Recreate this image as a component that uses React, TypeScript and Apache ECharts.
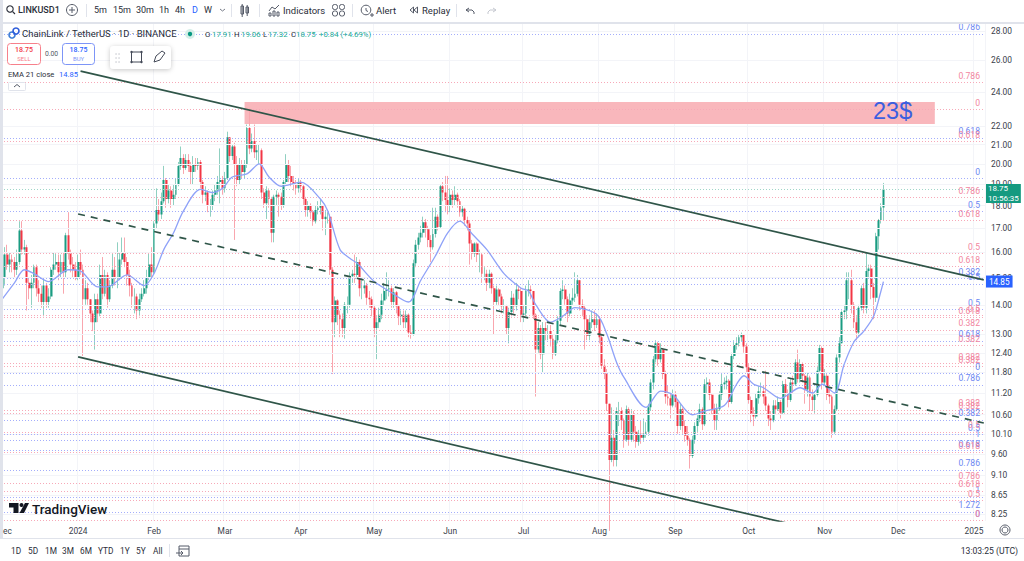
import React, { useEffect, useRef } from "react";
import * as echarts from "echarts";

const closes = [
15.0,15.9,15.5,15.7,15.6,15.3,15.6,16.9,16.1,16.2,
14.8,14.6,14.8,15.4,14.6,14.4,14.1,14.7,14.1,14.3,
15.3,15.5,15.6,15.2,15.6,15.2,16.7,16.0,15.5,15.3,
15.0,15.6,15.3,14.2,14.6,14.2,13.7,13.4,14.2,13.7,
15.1,14.4,15.1,14.2,14.7,15.3,15.0,15.0,15.7,16.0,
15.6,15.1,14.7,14.3,14.3,13.8,14.2,14.4,14.6,15.0,
15.5,15.2,17.2,17.8,17.6,18.2,19.2,18.3,18.7,18.3,
18.5,19.0,19.9,20.3,19.8,20.2,19.9,19.6,20.0,19.9,
20.1,19.1,18.5,18.6,18.0,18.0,18.5,18.7,19.1,19.2,
18.8,19.3,21.4,20.4,20.9,20.0,19.2,20.0,19.6,20.0,
21.9,20.8,21.2,20.6,20.7,20.7,18.6,18.1,18.7,18.3,
16.8,18.4,18.5,18.4,18.0,19.1,20.0,19.4,19.1,19.0,
18.8,19.1,18.9,18.3,17.8,18.0,17.7,17.3,17.8,17.9,
18.0,17.4,17.5,17.5,15.3,13.4,14.15,13.65,13.5,13.2,
14.0,14.0,15.05,15.15,15.1,15.6,14.6,14.6,14.7,14.25,
14.2,13.9,13.2,13.4,13.65,14.15,14.5,14.55,14.6,14.1,
14.45,13.95,13.6,13.65,13.4,13.65,13.05,13.0,15.55,16.3,
16.6,16.8,17.25,16.95,16.5,16.2,16.75,17.5,17.05,18.9,
18.6,18.25,18.0,18.5,18.25,18.5,18.2,17.7,17.85,17.35,
17.2,16.35,15.95,16.35,15.9,15.9,15.15,15.15,14.8,15.15,
14.6,14.1,14.55,14.3,13.95,13.95,13.2,13.75,14.25,13.95,
14.55,14.5,13.65,13.7,14.5,14.55,14.5,13.65,12.5,13.2,
12.35,13.2,13.1,13.1,12.85,12.35,12.8,13.45,14.5,14.55,
14.2,13.7,14.15,14.25,14.4,14.9,14.0,13.9,13.5,12.95,
13.4,13.5,13.3,13.5,12.9,12.0,11.75,10.9,9.45,10.0,
9.45,10.7,10.7,10.45,9.95,10.75,9.95,10.6,10.15,9.9,
10.1,10.0,10.1,10.15,10.8,11.5,12.2,12.7,12.2,12.5,
11.75,11.1,11.05,10.85,11.15,10.95,10.3,10.75,10.3,10.05,
9.95,9.55,9.95,10.3,10.5,10.75,10.35,11.45,11.5,11.15,
10.75,10.45,10.75,11.15,11.45,11.5,11.55,10.95,12.3,12.65,
12.7,12.9,13.0,12.6,11.95,11.0,10.6,10.55,11.05,11.25,
11.25,11.1,10.85,10.5,10.45,10.85,10.75,10.95,10.65,11.45,
11.2,11.0,11.5,11.45,12.1,11.6,12.05,11.7,11.3,11.65,
11.1,11.0,11.15,11.85,12.55,11.5,11.7,11.15,11.1,10.15,
10.75,12.25,12.7,13.75,13.8,14.9,14.9,14.0,13.4,13.05,
13.9,14.6,13.9,15.25,15.35,14.65,14.25,16.65,17.35,17.91,18.75,
];
const firstOpen = 14.6;
const highs = [
15.2,16.2,16.3,16.0,15.9,15.8,16.1,17.3,17.3,16.5,
16.3,15.0,15.1,15.5,15.5,14.9,14.7,15.0,14.8,14.6,
15.4,16.0,16.0,15.9,15.9,16.0,16.8,17.7,16.1,15.8,
15.6,15.9,16.1,15.5,14.9,14.8,14.2,13.8,14.4,14.4,
15.5,15.8,15.3,15.2,14.9,16.0,15.8,16.4,16.0,16.6,
16.6,15.8,15.3,14.8,14.6,14.4,14.4,14.6,14.9,15.3,
16.0,16.2,17.3,18.8,18.3,18.6,19.9,19.3,19.0,18.9,
19.0,19.3,20.1,20.9,20.5,20.5,20.5,20.1,20.4,20.3,
20.3,20.2,19.2,18.9,18.7,18.3,18.7,19.0,19.4,20.8,
19.4,19.6,21.7,21.4,21.0,21.1,20.4,20.3,20.2,20.2,
22.1,23.0,21.6,22.1,21.0,21.0,20.8,18.8,18.9,18.8,
18.4,18.5,18.7,18.6,18.6,19.2,20.5,20.2,19.9,19.4,
19.2,19.3,19.2,19.0,18.4,18.2,18.1,17.8,18.0,18.2,
18.3,18.0,17.8,17.7,17.6,15.4,14.3,14.2,13.8,13.7,
14.1,14.3,15.2,15.3,15.9,15.8,15.7,14.9,14.9,14.8,
14.5,14.3,14.0,13.6,13.9,14.4,14.8,15.2,14.9,14.7,
14.6,14.5,14.0,13.8,13.8,13.8,13.7,13.3,15.7,16.5,
16.8,17.1,17.5,17.4,17.1,16.7,17.9,17.9,17.6,19.0,
19.1,19.4,19.4,18.8,18.7,18.9,18.6,18.3,18.0,17.9,
17.5,17.3,16.5,16.4,16.4,16.1,16.0,15.4,15.3,15.3,
15.2,14.7,14.7,14.6,14.4,14.2,14.0,13.9,14.5,14.4,
14.8,14.7,14.6,14.0,14.7,14.9,14.7,14.5,13.7,13.4,
13.3,13.4,13.4,13.3,13.3,13.0,13.0,13.6,14.6,14.9,
14.7,14.3,14.4,14.6,15.2,15.1,14.9,14.2,14.0,13.6,
13.6,13.8,13.8,13.7,13.6,13.0,12.2,11.9,10.9,10.8,
10.2,10.8,10.95,10.8,10.5,10.85,10.8,10.75,10.7,10.3,
10.2,10.45,10.5,10.4,10.9,11.6,12.3,12.8,12.75,12.7,
12.55,11.85,11.4,11.2,11.3,11.25,11.0,10.9,10.8,10.45,
10.3,10.0,10.05,10.4,10.6,10.9,10.8,11.6,11.65,11.6,
11.2,10.9,10.9,11.25,11.75,11.65,11.7,11.6,12.4,12.8,
12.9,13.0,13.05,13.0,12.7,12.05,11.1,10.8,11.2,11.4,
11.5,11.4,11.85,10.9,10.7,11.0,11.0,11.1,11.0,11.55,
11.6,11.3,11.6,11.7,12.2,12.5,12.2,12.1,11.75,11.8,
11.7,11.3,11.25,12.0,12.65,12.6,11.9,11.75,11.3,11.15,
10.85,12.35,12.9,13.8,14.0,15.2,15.2,15.3,14.1,13.6,
14.0,14.7,14.8,16.0,15.5,15.5,14.8,16.8,17.4,18.1,19.06,
];
const lows = [
14.5,14.7,15.3,15.2,15.2,15.0,15.1,15.5,15.9,15.9,
13.8,14.2,13.9,14.6,14.3,14.1,13.9,13.6,13.9,13.9,
14.2,15.1,15.3,14.9,15.0,14.4,15.0,15.7,15.2,15.0,
14.9,14.9,15.1,12.3,14.0,14.0,13.4,13.1,12.5,13.4,
13.6,14.2,14.3,13.9,14.1,14.6,14.7,14.6,14.9,15.5,
15.4,14.7,14.3,13.9,13.7,13.5,13.6,14.1,14.3,14.4,
14.9,15.0,15.1,17.0,17.3,17.4,18.1,17.9,18.1,17.9,
18.0,18.3,18.9,19.7,19.5,19.7,19.6,19.0,19.0,19.6,
19.7,18.8,18.1,18.2,17.7,17.5,17.8,18.2,18.5,18.1,
18.5,18.6,19.2,20.1,20.2,16.5,18.9,19.0,19.3,19.3,
19.8,20.5,20.6,20.3,20.2,20.0,18.3,17.9,17.4,17.9,
16.4,16.4,18.0,17.5,17.8,17.9,19.0,19.1,18.9,18.7,
18.5,18.6,18.6,18.0,17.5,17.5,17.4,17.1,17.2,17.6,
17.6,16.9,16.7,17.2,15.1,11.75,12.9,13.3,12.9,12.9,
12.85,13.7,13.9,14.8,14.8,15.0,14.3,14.2,14.4,14.0,
13.9,13.6,12.9,12.2,13.2,13.5,14.0,14.2,14.3,13.9,
13.9,13.7,13.3,13.3,13.2,13.2,12.9,12.85,12.95,15.4,
16.1,16.4,16.6,16.6,16.2,15.6,16.1,16.6,16.9,17.0,
18.2,17.7,17.6,17.7,17.9,18.0,17.9,17.5,17.5,17.1,
16.9,15.5,15.7,15.8,15.6,15.2,14.8,14.9,14.5,14.6,
14.4,13.0,14.0,14.0,13.7,13.7,13.0,12.7,13.6,13.7,
13.8,14.2,13.4,13.4,13.6,14.3,14.2,13.5,11.1,12.4,
12.2,11.8,12.8,12.8,12.6,12.2,12.3,12.7,13.3,14.2,
14.0,13.4,13.6,14.0,14.1,14.3,13.8,13.6,12.5,12.8,
12.8,13.2,13.1,13.2,12.7,11.9,11.6,10.7,7.9,9.4,
9.3,9.3,10.3,10.2,9.75,9.9,9.8,9.9,9.9,9.75,
9.8,9.85,9.9,10.0,10.05,10.7,11.3,12.1,12.0,12.1,
11.6,10.9,10.85,10.5,10.8,10.8,10.1,10.2,10.1,9.9,
9.8,9.25,9.5,9.85,10.15,10.4,10.2,10.3,11.2,11.0,
10.6,10.2,10.2,10.7,11.0,11.3,11.3,10.8,10.9,12.2,
12.5,12.6,12.75,12.4,11.8,10.9,10.4,10.3,10.5,10.9,
11.1,10.9,10.7,10.3,10.2,10.4,10.6,10.7,10.5,10.6,
11.1,10.8,10.95,11.2,11.4,11.5,11.5,11.5,10.9,11.1,
10.7,10.7,10.65,11.1,11.8,11.3,11.4,11.0,10.9,10.0,
10.1,10.7,12.1,12.7,13.5,13.5,14.2,13.7,13.2,12.8,
12.9,13.8,13.7,13.7,15.0,14.2,13.5,14.1,16.1,17.2,17.32,
];

const emaDays = [0,5,9,13,19,27,32,39,43,51,58,62,66,70,74,81,86,90,94,100,105,109,114,122,130,133,138,142,145,152,158,166,171,177,182,187,192,198,205,212,215,218,224,229,234,243,247,251,254,263,269,274,282,287,295,300,303,307,311,318,326,331,335,340,344,348,352,356,359,360];
const emaValues = [14.2,14.8,15.3,15.15,14.85,15.3,15.25,14.65,14.65,15.1,14.7,15.15,16.1,16.8,17.75,18.75,18.6,18.8,19.35,19.5,20.0,19.35,18.9,19.1,18.3,17.75,16.1,15.75,15.55,14.85,14.5,14.1,14.9,15.85,16.8,17.3,16.75,16.1,15.15,14.6,14.5,14.0,13.4,13.6,13.9,13.65,13.0,12.1,11.65,10.8,11.25,11.15,10.6,10.7,10.85,11.45,11.7,11.45,11.35,11.05,11.35,11.2,11.45,11.2,12.05,12.75,13.1,13.6,14.5,14.85];

const upperTrendDays = [32, 401];
const upperTrendPrices = [25.3, 14.91];
const midTrendDays = [31, 401];
const midTrendPrices = [17.62, 10.38];
const lowerTrendDays = [31, 322];
const lowerTrendPrices = [12.27, 8.04];

const priceTicks = ["28.00","26.00","24.00","22.00","21.00","20.00","19.00","18.00","17.00","16.00","15.00","14.00","13.00","12.40","11.80","11.20","10.60","10.10","9.60","9.10","8.65","8.25"];

const blueLevelPrices = [27.79,21.36,19.27,17.75,14.98,14.76,13.84,12.78,11.78,11.43,10.46,10.09,9.94,9.69,9.22,8.61,8.29,8.12];
const blueLevelNames = ["0.786","0.618","0","0.5","0.382","0.5","0.5","0.618","0","0.786","0.382","0.5","1","0.618","0.786","1","1.272","0"];
const pinkLevelPrices = [24.58,22.95,21.19,18.39,17.35,15.96,15.43,13.64,13.57,13.14,12.63,12.08,11.99,10.73,10.65,10.15,9.63,8.92,8.74,8.54,8.12];
const pinkLevelNames = ["0.786","0","0.618","0.786","0.618","0.5","0.618","0.5","0.618","0.382","0.382","0.382","0.382","0.382","0.382","0.5","0.618","0.786","0.618","0.5","0"];

const monthDays = [31,62,91,122,152,183,213,244,275,305,336,366,397];
const monthNames = ["2024","Feb","Mar","Apr","May","Jun","Jul","Aug","Sep","Oct","Nov","Dec","2025"];
const dayCount = 402;

const zoneDays = [99, 381];
const zonePrices = [23.4, 22.13];
const lastPrice = 18.75;
const emaLast = 14.85;

const FONT = "Roboto, 'Noto Sans', sans-serif";
const INK = "#2a2e39";

function T(text: string, x: number, y: number, o: any = {}) {
  return {
    type: "text", x, y, z: 200, silent: true,
    style: {
      text, fill: o.fill || INK,
      font: `${o.weight || "400"} ${o.size || 9}px ${o.family || FONT}`,
      align: o.align || "left", verticalAlign: "middle",
    },
  };
}
function L(x1: number, y1: number, x2: number, y2: number, stroke = "#555b68", lineWidth = 1) {
  return { type: "line", z: 200, silent: true, shape: { x1, y1, x2, y2 }, style: { stroke, lineWidth } };
}
function R(x: number, y: number, width: number, height: number, style: any, r = 0, z = 200) {
  return { type: "rect", z, silent: true, shape: { x, y, width, height, r }, style };
}
function C(cx: number, cy: number, r: number, style: any) {
  return { type: "circle", z: 200, silent: true, shape: { cx, cy, r }, style };
}
function P(points: number[][], style: any, kind = "polygon") {
  return { type: kind, z: 200, silent: true, shape: { points }, style };
}
const outline = (stroke = "#555b68", lineWidth = 1) => ({ stroke, lineWidth, fill: "none" });

function toolbar(): any[] {
  const g: any[] = [];
  g.push(R(0, 22, 1024, 2, { fill: "#e0e3eb" }));
  g.push(R(0, 0, 3, 538, { fill: "#e0e3eb" }));
  g.push(R(0, 538, 1024, 1, { fill: "#e0e3eb" }));
  g.push(T("ec", 3, 530.5, { size: 8.4, fill: "#3a3e4a" }));
  // top bar
  g.push(C(10, 9, 3.2, outline("#2a2e39", 1.1)), L(12.5, 11.5, 15, 14, "#2a2e39", 1.1));
  g.push(T("LINKUSD1", 18, 10, { size: 9, weight: "500" }));
  g.push(C(72, 10, 5.5, outline()), L(72, 7, 72, 13), L(69, 10, 75, 10));
  g.push(L(86.5, 4, 86.5, 17, "#e0e3eb"));
  const iv = [["5m", 94], ["15m", 113], ["30m", 136], ["1h", 159], ["4h", 175]] as [string, number][];
  iv.forEach(([t, x]) => g.push(T(t, x, 10, { size: 9 })));
  g.push(T("D", 192, 10, { size: 9, fill: "#2962ff" }), T("W", 204, 10, { size: 9 }));
  g.push(P([[220, 9], [222.5, 11], [225, 9]], outline("#777c88"), "polyline"));
  g.push(L(231.5, 4, 231.5, 17, "#e0e3eb"));
  g.push(R(241, 6, 2.5, 8, outline()), L(242.2, 4, 242.2, 17), R(246, 7, 2.5, 6, outline()), L(247.2, 5, 247.2, 16));
  g.push(L(259.5, 4, 259.5, 17, "#e0e3eb"));
  g.push(P([[269, 11], [272, 7], [275, 9], [279, 5]], outline(), "polyline"));
  g.push(R(269, 13, 2, 3, outline()), R(273, 11, 2, 5, outline()), R(277, 12, 2, 4, outline()));
  g.push(T("Indicators", 283, 10, { size: 9.5 }));
  [[335, 7], [342, 7], [335, 13.5], [342, 13.5]].forEach(([x, y]) => g.push(R(x - 2.5, y - 2.5, 5, 5, outline(), 2)));
  g.push(L(352.5, 4, 352.5, 17, "#e0e3eb"));
  g.push(C(366, 10, 4.8, outline()), L(366, 8, 366, 10.5), L(366, 10.5, 368, 11.5), L(370, 15, 374, 15), L(372, 13, 372, 17));
  g.push(T("Alert", 376, 10, { size: 9.5 }));
  g.push(P([[410, 10], [413.5, 7], [413.5, 13]], outline(), "polygon"), P([[414, 10], [417.5, 7], [417.5, 13]], outline(), "polygon"));
  g.push(T("Replay", 422, 10, { size: 9.5 }));
  g.push(L(456.5, 4, 456.5, 17, "#e0e3eb"));
  g.push(P([[469, 8], [466, 10], [469, 12]], outline(), "polyline"), P([[466, 10], [472, 10], [474, 12], [474, 14]], outline(), "polyline"));
  g.push(P([[493, 8], [496, 10], [493, 12]], outline("#c5c8d0"), "polyline"), P([[496, 10], [490, 10], [488, 12], [488, 14]], outline("#c5c8d0"), "polyline"));
  // legend
  g.push(C(12, 35, 3, outline("#3a7bd5", 1.6)), C(16, 31, 3, outline("#2a5ada", 1.6)));
  g.push(T("ChainLink / TetherUS · 1D · BINANCE", 22, 33.5, { size: 9.5 }));
  g.push(C(190, 34, 5, { fill: "#d5eee8" }), C(190, 34, 2.2, { fill: "#089981" }));
  const green = "#22ab94";
  const ohlc = [["O", 205, INK], ["17.91", 212, green], ["H", 234, INK], ["19.06", 241, green], ["L", 263, INK], ["17.32", 268, green], ["C", 291, INK], ["18.75", 296, green], ["+0.84 (+4.69%)", 319, green]] as [string, number, string][];
  ohlc.forEach(([t, x, f]) => g.push(T(t, x, 34.5, { size: 7.8, fill: f })));
  g.push(R(7.5, 43.5, 33, 21, { fill: "#fff", stroke: "#f7808b", lineWidth: 1 }, 3));
  g.push(T("18.75", 24, 50, { size: 7, fill: "#f23645", align: "center", weight: "500" }), T("SELL", 24, 58, { size: 6, fill: "#f7808b", align: "center" }));
  g.push(T("0.00", 51.5, 53.5, { size: 6.8, align: "center", fill: "#555b68" }));
  g.push(R(62.5, 43.5, 32, 21, { fill: "#fff", stroke: "#7d95f7", lineWidth: 1 }, 3));
  g.push(T("18.75", 78.5, 50, { size: 7, fill: "#2962ff", align: "center", weight: "500" }), T("BUY", 78.5, 58, { size: 6, fill: "#7d95f7", align: "center" }));
  g.push({ ...R(110, 46, 61, 23, { fill: "#fff", shadowBlur: 5, shadowColor: "rgba(0,0,0,0.22)", shadowOffsetY: 1 }, 4) });
  [[116, 54], [119, 54], [116, 58], [119, 58], [116, 62], [119, 62]].forEach(([x, y]) => g.push(C(x, y, 0.6, { fill: "#b2b5be" })));
  g.push(R(131.5, 52, 10, 10, outline("#444a58")));
  [[131.5, 52], [141.5, 52], [131.5, 62], [141.5, 62]].forEach(([x, y]) => g.push(C(x, y, 1.2, { fill: "#444a58" })));
  g.push(P([[154, 62], [156, 56], [162, 51], [165, 53], [160, 60]], outline("#444a58")));
  g.push(T("EMA 21 close", 8, 74, { size: 7.6 }), T("14.85", 59, 74, { size: 7.6, fill: "#2962ff" }));
  g.push(R(8.5, 82.5, 17, 8, { fill: "#fff", stroke: "#e0e3eb", lineWidth: 1 }, 1));
  g.push(P([[14, 87], [17, 84.5], [20, 87]], outline("#555b68"), "polyline"));
  // 23$
  g.push(T("23$", 873, 111, { size: 23.5, fill: "#3b5fe0", family: "'Liberation Sans', sans-serif" }));
  // logo
  g.push(P([[9, 503], [18.5, 503], [18.5, 513], [13.5, 513], [13.5, 507.5], [9, 507.5]], { fill: "#131722" }));
  g.push(C(21.5, 505, 2, { fill: "#131722" }));
  g.push(P([[25, 503], [29, 503], [24, 513], [19.5, 513]], { fill: "#131722" }));
  g.push(T("TradingView", 32, 508.5, { size: 13.5, fill: "#131722", weight: "500" }));
  // bottom bar
  const ranges = [["1D", 11], ["5D", 28], ["1M", 45], ["3M", 62], ["6M", 80], ["YTD", 98], ["1Y", 120], ["5Y", 136], ["All", 153]] as [string, number][];
  ranges.forEach(([t, x]) => g.push(T(t, x, 550.5, { size: 8.3 })));
  g.push(L(169.5, 544, 169.5, 557, "#e0e3eb"));
  g.push(R(179, 546, 10, 10, outline()), L(179, 549, 189, 549), L(176, 553, 183, 553), L(181, 551, 183, 553), L(181, 555, 183, 553));
  g.push(T("13:03:25 (UTC)", 1018, 550.5, { size: 8.6, align: "right" }));
  g.push(C(1005, 530, 3, outline()), C(1005, 530, 5, outline()));
  return g;
}

function levelLine(value: number, name: string, color: string, textColor: string) {
  return {
    yAxis: value,
    lineStyle: { color, type: [1, 2], width: 1, opacity: 1 },
    label: {
      show: true, formatter: name, position: "insideEndTop", distance: [5, 2],
      color: textColor, fontSize: 8.6, fontFamily: FONT,
    },
  };
}

export default function App() {
  const ref = useRef<HTMLDivElement>(null);
  useEffect(() => {
    const chart = echarts.init(ref.current!, undefined, { renderer: "svg" });
    const categories = Array.from({ length: dayCount }, (_, i) => {
      const d = new Date(Date.UTC(2023, 11, 1 + i));
      return d.toISOString().slice(0, 10);
    });
    const candles = closes.map((c, i) => [i === 0 ? firstOpen : closes[i - 1], c, lows[i], highs[i]]);
    const monthIndex = new Set(monthDays);
    const option: any = {
      animation: false,
      backgroundColor: "#ffffff",
      grid: { left: 1, width: 984, top: 24, height: 497, containLabel: false, outerBoundsMode: "none" },
      xAxis: {
        type: "category", data: categories, boundaryGap: true,
        axisLine: { show: false }, axisTick: { show: false },
        axisLabel: {
          interval: (i: number) => monthIndex.has(i), margin: 6,
          fontSize: 8.4, fontFamily: FONT, color: "#3a3e4a",
          hideOverlap: false,
          formatter: (_: string, i: number) => monthNames[monthDays.indexOf(i)] ?? "",
        },
        splitLine: { show: true, interval: (i: number) => monthIndex.has(i), lineStyle: { color: "#f3f4f8", width: 1 } },
      },
      yAxis: {
        type: "log", logBase: 10, min: 8.1, max: 28.5, position: "right",
        axisLine: { show: false }, axisTick: { show: false }, axisLabel: { show: false }, splitLine: { show: false },
      },
      series: [
        {
          type: "line", data: [], silent: true, z: 1,
          markLine: {
            silent: true, symbol: "none", animation: false,
            data: priceTicks.map((t) => ({
              yAxis: Number(t),
              lineStyle: { color: "#f3f4f8", type: "solid", width: 1 },
              label: { show: true, formatter: t, position: "end", distance: 6, color: "#3a3e4a", fontSize: 8.4, fontFamily: FONT },
            })),
          },
        },
        {
          type: "line", data: [], silent: true, z: 2,
          markArea: {
            silent: true,
            itemStyle: { color: "#f9b7bc" },
            data: [[{ xAxis: zoneDays[0], yAxis: zonePrices[0] }, { xAxis: zoneDays[1], yAxis: zonePrices[1] }]],
          },
          markLine: {
            silent: true, symbol: "none", animation: false,
            data: [
              ...blueLevelPrices.map((v, i) => levelLine(v, blueLevelNames[i], "#a4aefb", "#6d87f2")),
              ...pinkLevelPrices.map((v, i) => levelLine(v, pinkLevelNames[i], "#f7a9b8", "#f286a0")),
              { yAxis: lastPrice, lineStyle: { color: "#9fd6c8", type: [1, 2], width: 1 }, label: { show: false } },
            ],
          },
        },
        {
          type: "candlestick", name: "wicks", data: candles, barWidth: 1, z: 3, silent: true,
          itemStyle: { color: "transparent", color0: "transparent", borderColor: "#90d0c1", borderColor0: "#f9a6ae", borderWidth: 1 },
        },
        {
          type: "candlestick", name: "LINKUSD", data: candles, barWidth: 2.4, z: 4, silent: true,
          itemStyle: { color: "#1a9c82", color0: "#f23645", borderColor: "#1a9c82", borderColor0: "#f23645", borderWidth: 0 },
        },
        {
          type: "line", name: "EMA 21", data: emaDays.map((d, i) => [d, emaValues[i]]), smooth: 0.3, showSymbol: false, symbol: "none",
          lineStyle: { color: "#8fa2f8", width: 1.3 }, z: 5, silent: true,
        },
        {
          type: "line", data: upperTrendDays.map((d, i) => [d, upperTrendPrices[i]]), showSymbol: false, symbol: "none",
          lineStyle: { color: "#2f5548", width: 1.7 }, z: 6, silent: true,
        },
        {
          type: "line", data: midTrendDays.map((d, i) => [d, midTrendPrices[i]]), showSymbol: false, symbol: "none",
          lineStyle: { color: "#2f5548", width: 1.7, type: [7, 6] }, z: 6, silent: true,
        },
        {
          type: "line", data: lowerTrendDays.map((d, i) => [d, lowerTrendPrices[i]]), showSymbol: false, symbol: "none",
          lineStyle: { color: "#2f5548", width: 1.7 }, z: 6, silent: true,
        },
        {
          type: "line", data: [], silent: true, z: 20,
          markLine: {
            silent: true, symbol: "none", animation: false,
            data: [
              {
                yAxis: lastPrice, lineStyle: { color: "transparent", width: 0 },
                label: {
                  show: true, position: "end", distance: 1, offset: [0, 4], formatter: "18.75\n10:56:35", align: "left",
                  backgroundColor: "#149a80", color: "#ffffff", fontSize: 8, lineHeight: 9.5, padding: [0, 2, 0, 2], fontFamily: FONT, opacity: 1,
                },
              },
              {
                yAxis: emaLast, lineStyle: { color: "transparent", width: 0 },
                label: {
                  show: true, position: "end", distance: 1, formatter: "14.85", align: "left",
                  backgroundColor: "#2962ff", color: "#ffffff", fontSize: 8.2, padding: [2, 3, 2, 3], fontFamily: FONT, opacity: 1,
                },
              },
            ],
          },
        },
      ],
      graphic: { elements: toolbar() },
    };
    chart.setOption(option);
    return () => chart.dispose();
  }, []);
  return (
    <div style={{ position: "fixed", left: 0, top: 0, width: 1024, height: 561, overflow: "hidden", background: "#fff" }}>
      <div ref={ref} style={{ width: 1024, height: 561 }} />
    </div>
  );
}
